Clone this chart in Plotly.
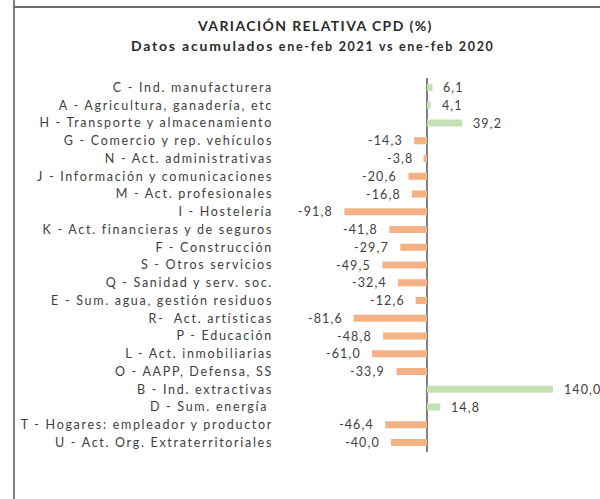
import plotly.graph_objects as go

categories = [
    "C - Ind. manufacturera",
    "A - Agricultura, ganadería, etc",
    "H - Transporte y almacenamiento",
    "G - Comercio y rep. vehículos",
    "N - Act. administrativas",
    "J - Información y comunicaciones",
    "M - Act. profesionales",
    "I - Hostelería",
    "K - Act. financieras y de seguros",
    "F - Construcción",
    "S - Otros servicios",
    "Q - Sanidad y serv. soc.",
    "E - Sum. agua, gestión residuos",
    "R-  Act. artísticas",
    "P - Educación",
    "L - Act. inmobiliarias",
    "O - AAPP, Defensa, SS",
    "B - Ind. extractivas",
    "D - Sum. energía ",
    "T - Hogares: empleador y productor",
    "U - Act. Org. Extraterritoriales",
]
values = [6.1, 4.1, 39.2, -14.3, -3.8, -20.6, -16.8, -91.8, -41.8, -29.7, -49.5,
          -32.4, -12.6, -81.6, -48.8, -61.0, -33.9, 140.0, 14.8, -46.4, -40.0]

title_text = "VARIACIÓN RELATIVA CPD (%)"
subtitle_main = "Datos acumulados"
subtitle_rest = " ene-feb 2021 vs ene-feb 2020"

GREEN = "#c5e0b4"
ORANGE = "#f4b183"
TXT = "#404040"
FONT = "Lato"
LS_LABEL = "letter-spacing:1.7px"
LS_VALUE = "letter-spacing:1.1px"

W, H = 600, 499
L, R, T, B = 276, 0, 78, 47
zero_px, ppu = 427, 0.9
x_lo = (L - zero_px) / ppu
x_hi = (W - R - zero_px) / ppu

colors = [GREEN if v >= 0 else ORANGE for v in values]

fig = go.Figure(go.Bar(
    x=values, y=categories, orientation="h",
    marker=dict(color=colors, line=dict(width=0)),
    width=0.4, hoverinfo="skip",
))

annotations = []
for c, v in zip(categories, values):
    annotations.append(dict(
        x=v, y=c, xref="x", yref="y",
        text=f"<span style='{LS_VALUE}'>" + f"{v:.1f}".replace(".", ",") + "</span>",
        showarrow=False,
        xanchor="left" if v >= 0 else "right",
        xshift=9 if v >= 0 else -9,
        font=dict(family=FONT, size=12.5, color=TXT),
    ))

pw = W - L - R
ph = H - T - B
def px2paper_x(px):
    return (px - L) / pw
def px2paper_y(py):
    return 1 - (py - T) / ph

annotations.append(dict(
    x=px2paper_x(315), y=px2paper_y(25), xref="paper", yref="paper",
    text=f"<b><span style='letter-spacing:1.4px'>{title_text}</span></b>",
    showarrow=False, xanchor="center", yanchor="middle",
    font=dict(family=FONT, size=14, color="#2b2b2b"),
))
annotations.append(dict(
    x=px2paper_x(313), y=px2paper_y(45), xref="paper", yref="paper",
    text=(f"<b><span style='letter-spacing:1.8px'>{subtitle_main}</span></b>"
          f"<b><span style='font-size:12.5px;letter-spacing:1.7px'>{subtitle_rest}</span></b>"),
    showarrow=False, xanchor="center", yanchor="middle",
    font=dict(family=FONT, size=14, color="#2b2b2b"),
))

shapes = [
    dict(type="rect", xref="paper", yref="paper", layer="above",
         x0=px2paper_x(13), x1=px2paper_x(15), y0=px2paper_y(0), y1=px2paper_y(H),
         fillcolor="#808080", line=dict(width=0)),
    dict(type="rect", xref="paper", yref="paper", layer="above",
         x0=px2paper_x(13), x1=px2paper_x(W), y0=px2paper_y(6), y1=px2paper_y(8),
         fillcolor="#6e6e6e", line=dict(width=0)),
]

ticktext = [f"<span style='{LS_LABEL}'>{c}</span>" for c in categories]

fig.update_layout(
    width=W, height=H,
    margin=dict(l=L, r=R, t=T, b=B),
    paper_bgcolor="white", plot_bgcolor="white",
    showlegend=False,
    bargap=0.6,
    annotations=annotations,
    shapes=shapes,
    xaxis=dict(range=[x_lo, x_hi], showgrid=False, showticklabels=False,
               zeroline=True, zerolinecolor="#808080", zerolinewidth=1.5,
               fixedrange=True),
    yaxis=dict(categoryorder="array", categoryarray=categories, autorange="reversed",
               tickmode="array", tickvals=categories, ticktext=ticktext,
               showgrid=False, zeroline=False, ticks="", showline=False,
               tickfont=dict(family=FONT, size=12.5, color=TXT),
               ticklabelstandoff=2, fixedrange=True),
)

fig.write_html("out.html", config={"displayModeBar": False},
               post_script="document.body.style.margin='0';")
